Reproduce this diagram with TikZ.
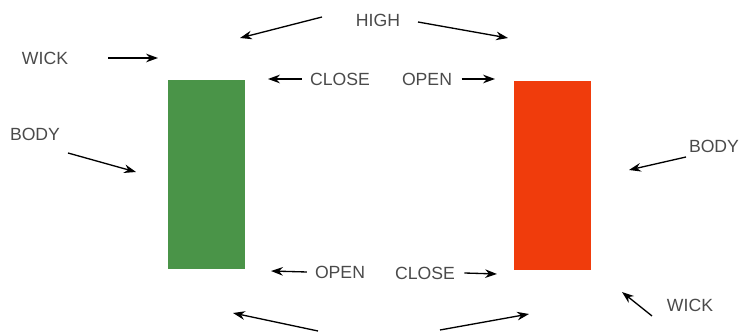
\documentclass[tikz,border=0pt]{standalone}
\usepackage{fontspec}
\setmainfont{Liberation Sans}
\usepackage{tikz}
\usetikzlibrary{arrows.meta,calc,positioning}
\usepackage{xcolor}
\definecolor{bullgreen}{HTML}{4A9448}
\definecolor{bearred}{HTML}{F03C0C}
\definecolor{labelgrey}{HTML}{4A4A4A}

\begin{document}
\begin{tikzpicture}[x=0.0265cm, y=-0.0265cm,
  lbl/.style={text=labelgrey, font=\fontsize{13.3}{15}\selectfont, inner sep=1pt},
  ptr/.style={-{Stealth[length=9pt, width=6.5pt]}, line width=1pt, black},
  candle/.style={minimum width=77*0.0265cm, minimum height=189*0.0265cm, inner sep=0pt}]

\useasboundingbox (0,0) rectangle (741,333);

% candele
\node[candle, fill=bullgreen] (GREEN) at (206.5,174.5) {};
\node[candle, fill=bearred] (RED) at (552.5,175.5) {};

% etichette
\node[lbl] (HIGH) at (378,20) {HIGH};
\node[lbl] (WICKL) at (45,58) {WICK};
\node[lbl] (BODYL) at (35,134) {BODY};
\node[lbl] (CLOSET) at (340,79) {CLOSE};
\node[lbl] (OPENT) at (427,79) {OPEN};
\node[lbl] (BODYR) at (714,146) {BODY};
\node[lbl] (OPENB) at (340,272) {OPEN};
\node[lbl] (CLOSEB) at (425,273) {CLOSE};
\node[lbl] (WICKR) at (690,305) {WICK};

% code e punte delle frecce
\coordinate (HLs) at (322,17);  \coordinate (HL) at (240,38);
\coordinate (HRs) at (418,22);  \coordinate (HR) at (508,38);
\coordinate (WLs) at (108,58);  \coordinate (WL) at (158,58);
\coordinate (BLs) at (68,153);  \coordinate (BL) at (136,172);
\coordinate (BRs) at (686,157); \coordinate (BR) at (629,170);
\coordinate (WRs) at (652,316); \coordinate (WR) at (622,292);
\coordinate (LLs) at (318,331); \coordinate (LL) at (233,313);
\coordinate (LRs) at (440,330); \coordinate (LR) at (529,314);

% frecce
\draw[ptr] (HLs) -- (HL);
\draw[ptr] (HRs) -- (HR);
\draw[ptr] (WLs) -- (WL);
\draw[ptr] (BLs) -- (BL);
\draw[ptr] ([xshift=-5pt]CLOSET.west) -- (268,79);
\draw[ptr] ([xshift=6pt]OPENT.east) -- (495,79);
\draw[ptr] (BRs) -- (BR);
\draw[ptr] ([xshift=-5pt]OPENB.west) -- (271,271);
\draw[ptr] ([xshift=6pt]CLOSEB.east) -- (497,274);
\draw[ptr] (WRs) -- (WR);
\draw[ptr] (LLs) -- (LL);
\draw[ptr] (LRs) -- (LR);

\end{tikzpicture}
\end{document}
